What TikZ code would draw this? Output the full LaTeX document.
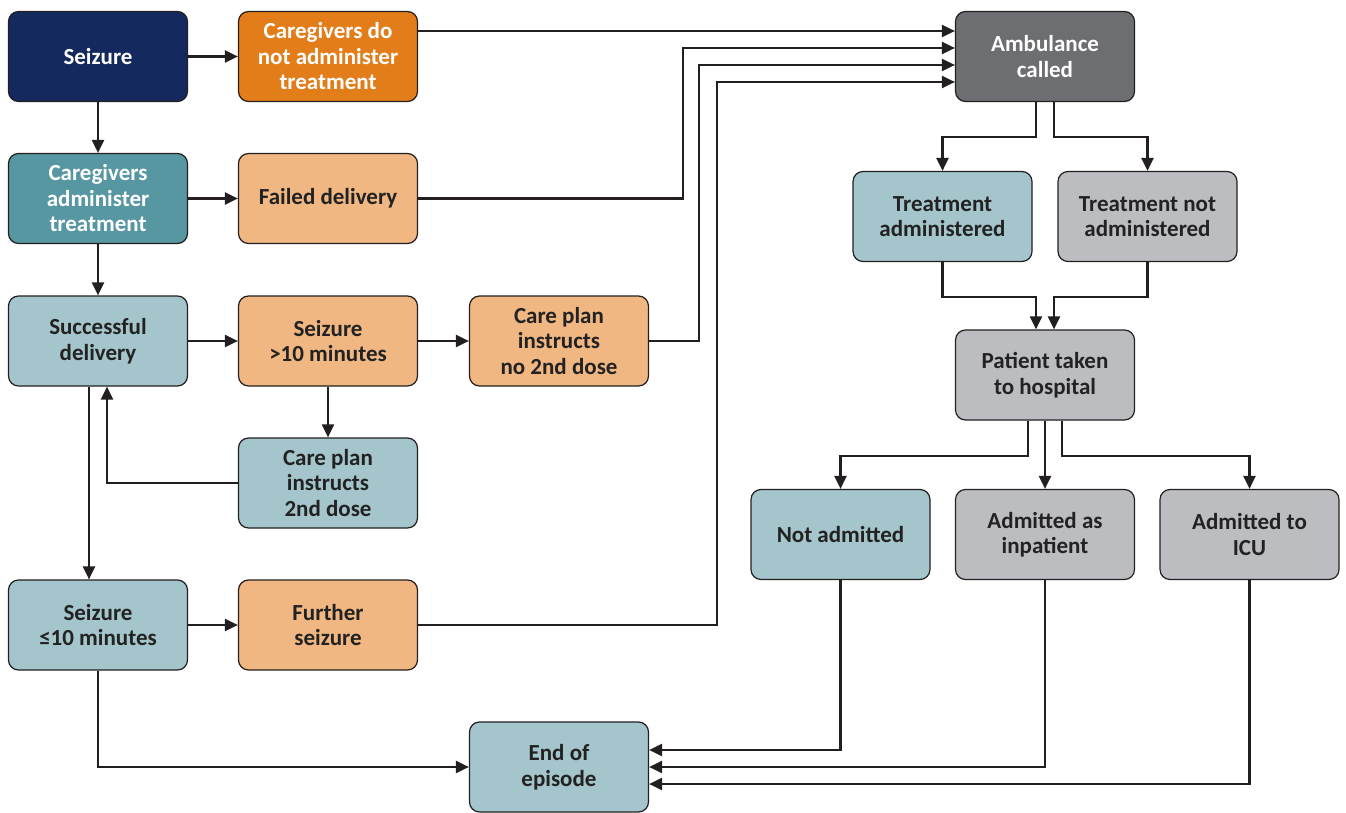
\documentclass[tikz,border=0pt]{standalone}
\usepackage{fontspec}
\setmainfont{Carlito}
\usetikzlibrary{calc,arrows.meta}
\definecolor{navy}{RGB}{20,42,94}
\definecolor{dorange}{RGB}{226,125,26}
\definecolor{dteal}{RGB}{86,151,162}
\definecolor{lteal}{RGB}{163,197,203}
\definecolor{lorange}{RGB}{240,183,130}
\definecolor{dgray}{RGB}{109,110,113}
\definecolor{lgray}{RGB}{188,189,193}
\definecolor{txt}{RGB}{34,34,34}
\definecolor{edge}{RGB}{35,31,32}
\tikzset{
  box/.style={draw=edge, line width=1.2pt, rounded corners=10pt, minimum width=179pt, minimum height=90pt, inner sep=2pt, align=center, font=\fontsize{23}{25.5}\selectfont\bfseries, text=txt},
  darkbox/.style={box, text=white},
  arr/.style={draw=edge, line width=2.2pt, -{Triangle[length=13pt,width=12pt]}},
}
\begin{document}
\begin{tikzpicture}[x=1pt,y=-1pt]
\useasboundingbox (0,0) rectangle (1346,813);
% nodes
\node[darkbox, fill=navy] (seiz) at (98,56.5) {Seizure};
\node[darkbox, fill=dorange] (cgno) at (328,56.5) {Caregivers do\\not administer\\treatment};
\node[darkbox, fill=dteal] (cgad) at (98,198.5) {Caregivers\\administer\\treatment};
\node[box, fill=lorange] (fail) at (328,198.5) {Failed delivery};
\node[box, fill=lteal] (succ) at (98,341) {Successful\\delivery};
\node[box, fill=lorange] (sgt) at (328,341) {Seizure\\>10 minutes};
\node[box, fill=lorange] (cpno) at (559,341) {Care plan\\instructs\\no 2nd dose};
\node[box, fill=lteal] (cp2) at (328,483) {Care plan\\instructs\\2nd dose};
\node[box, fill=lteal] (sle) at (98,625) {Seizure\\≤10 minutes};
\node[box, fill=lorange] (fur) at (328,625) {Further\\seizure};
\node[box, fill=lteal] (endep) at (559,767) {End of\\episode};
\node[darkbox, fill=dgray] (amb) at (1045,56.5) {Ambulance\\called};
\node[box, fill=lteal] (ta) at (942.5,216.5) {Treatment\\administered};
\node[box, fill=lgray] (tna) at (1147.5,216.5) {Treatment not\\administered};
\node[box, fill=lgray] (pt) at (1045,375) {Patient taken\\to hospital};
\node[box, fill=lteal] (nadm) at (840.5,534.5) {Not admitted};
\node[box, fill=lgray] (inp) at (1045,534.5) {Admitted as\\inpatient};
\node[box, fill=lgray] (icu) at (1249.5,534.5) {Admitted to\\ICU};
% coordinates
\coordinate (a1) at ($(amb.west)+(0,-25.5)$);
\coordinate (a2) at ($(amb.west)+(0,-8.5)$);
\coordinate (a3) at ($(amb.west)+(0,8.5)$);
\coordinate (a4) at ($(amb.west)+(0,25.5)$);
\coordinate (e1) at ($(endep.east)+(0,-17)$);
\coordinate (e2) at ($(endep.east)+(0,0)$);
\coordinate (e3) at ($(endep.east)+(0,17)$);
\coordinate (sdL) at ($(succ.south)+(-9,0)$);
\coordinate (sdR) at ($(succ.south)+(9,0)$);
% connectors left
\draw[arr] (seiz.east) -- (cgno.west);
\draw[arr] (seiz.south) -- (cgad.north);
\draw[arr] (cgno.east |- a1) -- (a1);
\draw[arr] (cgad.east) -- (fail.west);
\draw[arr] (fail.east) -- ++(265,0) |- (a2);
\draw[arr] (cgad.south) -- (succ.north);
\draw[arr] (succ.east) -- (sgt.west);
\draw[arr] (sgt.east) -- (cpno.west);
\draw[arr] (cpno.east) -- ++(50,0) |- (a3);
\draw[arr] (sgt.south) -- (cp2.north);
\draw[arr] (cp2.west) -| (sdR);
\draw[arr] (sdL) -- (sdL |- sle.north);
\draw[arr] (sle.east) -- (fur.west);
\draw[arr] (fur.east) -- ++(299,0) |- (a4);
\draw[arr] (sle.south) |- (endep.west);
% connectors right
\draw[arr] ($(amb.south)+(-9,0)$) -- ++(0,35) -| (ta.north);
\draw[arr] ($(amb.south)+(9,0)$) -- ++(0,35) -| (tna.north);
\draw[arr] (ta.south) -- ++(0,35) -| ($(pt.north)+(-9,0)$);
\draw[arr] (tna.south) -- ++(0,35) -| ($(pt.north)+(9,0)$);
\draw[arr] ($(pt.south)+(-17,0)$) -- ++(0,35) -| (nadm.north);
\draw[arr] (pt.south) -- (inp.north);
\draw[arr] ($(pt.south)+(17,0)$) -- ++(0,35) -| (icu.north);
\draw[arr] (nadm.south) |- (e1);
\draw[arr] (inp.south) |- (e2);
\draw[arr] (icu.south) |- (e3);
\end{tikzpicture}
\end{document}
